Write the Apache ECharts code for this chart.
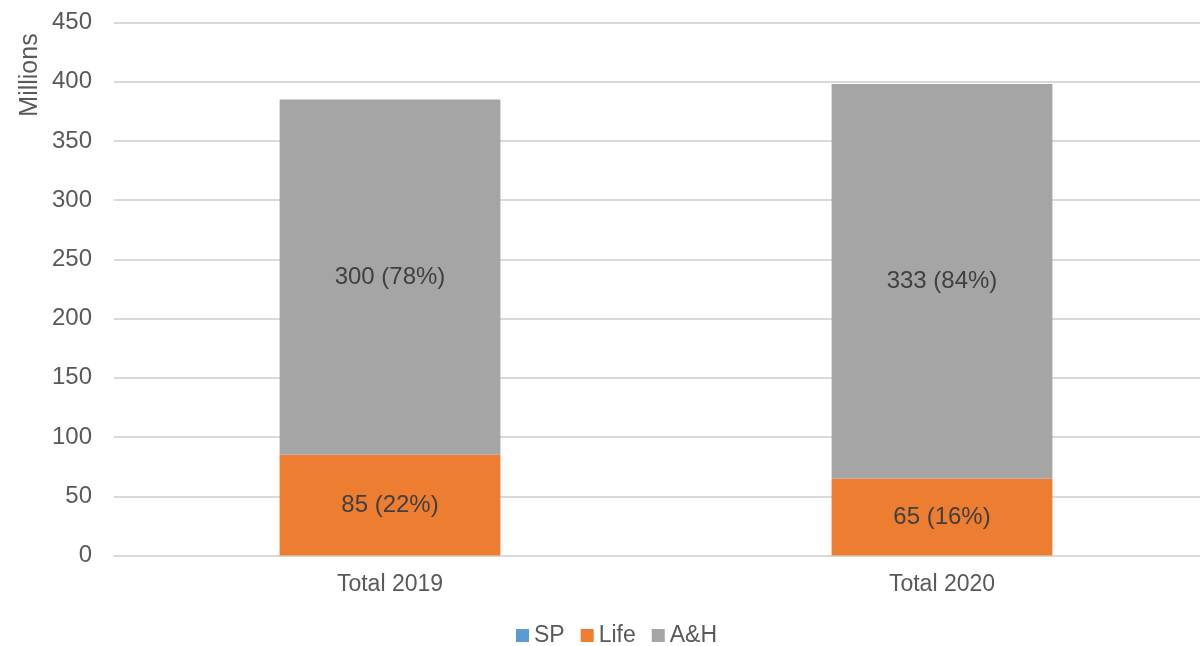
<!DOCTYPE html>
<html>
<head>
<meta charset="utf-8">
<script src="https://cdn.jsdelivr.net/npm/echarts@6/dist/echarts.min.js"></script>
<style>
  html, body { margin: 0; padding: 0; background: #fff; }
  #chart { width: 1200px; height: 646px; }
</style>
</head>
<body>
<div id="chart"></div>
<script>
const categories = ['Total 2019', 'Total 2020'];
const spValues = [0, 0];
const lifeValues = [85, 65];
const ahValues = [300, 333];

const totals = categories.map((c, i) => spValues[i] + lifeValues[i] + ahValues[i]);

function pctLabel(p) {
  const pct = Math.round(p.value / totals[p.dataIndex] * 100);
  return p.value + ' (' + pct + '%)';
}

const font = '"Liberation Sans", Arial, sans-serif';
const labelStyle = {
  show: true,
  position: 'inside',
  color: '#404040',
  fontSize: 24,
  fontFamily: font,
  formatter: pctLabel
};

const chart = echarts.init(document.getElementById('chart'));
const option = {
  animation: false,
  textStyle: { fontFamily: font },
  grid: { left: 114, width: 1104, top: 22.5, bottom: 90.5, outerBoundsMode: 'none', containLabel: false },
  legend: {
    top: 619,
    left: 511,
    itemWidth: 13,
    itemHeight: 13,
    itemGap: 16,
    icon: 'rect',
    textStyle: { color: '#595959', fontSize: 23, fontFamily: font },
    data: ['SP', 'Life', 'A&H']
  },
  graphic: [{
    type: 'text',
    x: 30,
    y: 75,
    rotation: Math.PI / 2,
    style: {
      text: 'Millions',
      fill: '#595959',
      fontSize: 25,
      fontFamily: font,
      align: 'center',
      verticalAlign: 'middle'
    }
  }],
  xAxis: {
    type: 'category',
    data: categories,
    axisTick: { show: false },
    axisLine: { lineStyle: { color: '#d9d9d9', width: 2 } },
    axisLabel: { color: '#595959', fontSize: 23, fontFamily: font, margin: 18 }
  },
  yAxis: {
    type: 'value',
    min: 0,
    max: 450,
    interval: 50,
    axisLine: { show: false },
    axisTick: { show: false },
    axisLabel: { color: '#595959', fontSize: 24, fontFamily: font, margin: 22 },
    splitLine: { lineStyle: { color: '#d9d9d9', width: 2 } }
  },
  series: [
    {
      name: 'SP', type: 'bar', stack: 'total', barWidth: '40%',
      itemStyle: { color: '#5B9BD5' },
      data: spValues
    },
    {
      name: 'Life', type: 'bar', stack: 'total', barWidth: '40%',
      itemStyle: { color: '#ED7D31' },
      label: labelStyle,
      data: lifeValues
    },
    {
      name: 'A&H', type: 'bar', stack: 'total', barWidth: '40%',
      itemStyle: { color: '#A5A5A5' },
      label: labelStyle,
      data: ahValues
    }
  ]
};
chart.setOption(option);
</script>
</body>
</html>
